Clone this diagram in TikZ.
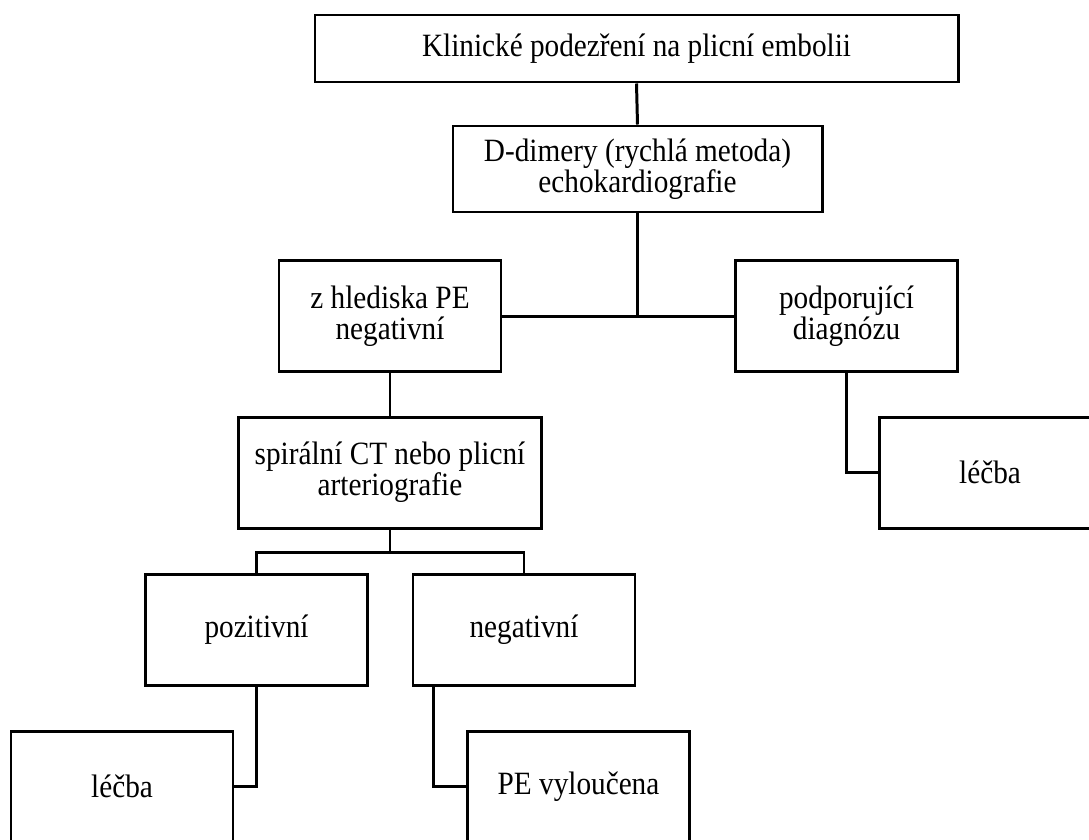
\documentclass[tikz,border=0pt]{standalone}
\usepackage{fontspec}
\setmainfont{Liberation Serif}[FakeStretch=0.9]
\usetikzlibrary{calc}

\def\pxu{0.02cm}

\begin{document}
\begin{tikzpicture}[
  x=0.02cm, y=-0.02cm,
  box/.style={draw, line width=1.7pt, align=center, inner sep=0pt,
    font=\fontsize{18.5}{17.5}\selectfont},
  cell/.style={box, minimum width=222*\pxu, minimum height=111*\pxu},
  link/.style={line width=1.7pt},
]

%% ── sheet: 1 unit = 1 px, y runs downwards ───────────────
\useasboundingbox (0,0) rectangle (1089,839);
\clip (0,0) rectangle (1089,839);

%% ── top of the tree ──────────────────────────────────────
\node[box, minimum width=643*\pxu, minimum height=67*\pxu] (klin) at (636.5,48.5)
     {Klinické podezření na plicní embolii};
\node[box, minimum width=369*\pxu, minimum height=86*\pxu] (ddim) at (637.5,169)
     {D-dimery (rychlá metoda)\\echokardiografie};

%% ── first split ──────────────────────────────────────────
\node[cell] (hled) at (390,316) {z hlediska PE\\negativní};
\node[cell] (podp) at (846.5,316) {podporující\\diagnózu};
\node[box, minimum width=303*\pxu, minimum height=111*\pxu] (spir) at (390,472.5)
     {spirální CT nebo plicní\\arteriografie};
\node[cell] (lecbaB) at (990,472.5) {léčba};

%% ── second split ─────────────────────────────────────────
\node[cell] (poz) at (256.5,629.5) {pozitivní};
\node[cell] (negat) at (524,629.5) {negativní};
\node[cell] (lecbaA) at (122,786.5) {léčba};
\node[cell] (vyl) at (578.5,786.5) {PE vyloučena};

%% ── connectors ───────────────────────────────────────────
\draw[link] (klin.south) -- (ddim.north);
\draw[link] (hled.east) -- (podp.west);
\draw[link] (ddim.south) -- (ddim.south |- hled.east);
\draw[link] (hled.south) -- (spir.north);
\draw[link] (podp.south) |- (lecbaB.west);

\coordinate (split) at (390,552);
\draw[link] (spir.south) -- (split);
\draw[link] (poz.north) |- (split) -| (negat.north);
\draw[link] (poz.south) |- (lecbaA.east);
\draw[link] ($(negat.south west)+(22,0)$) |- (vyl.west);

\end{tikzpicture}
\end{document}
